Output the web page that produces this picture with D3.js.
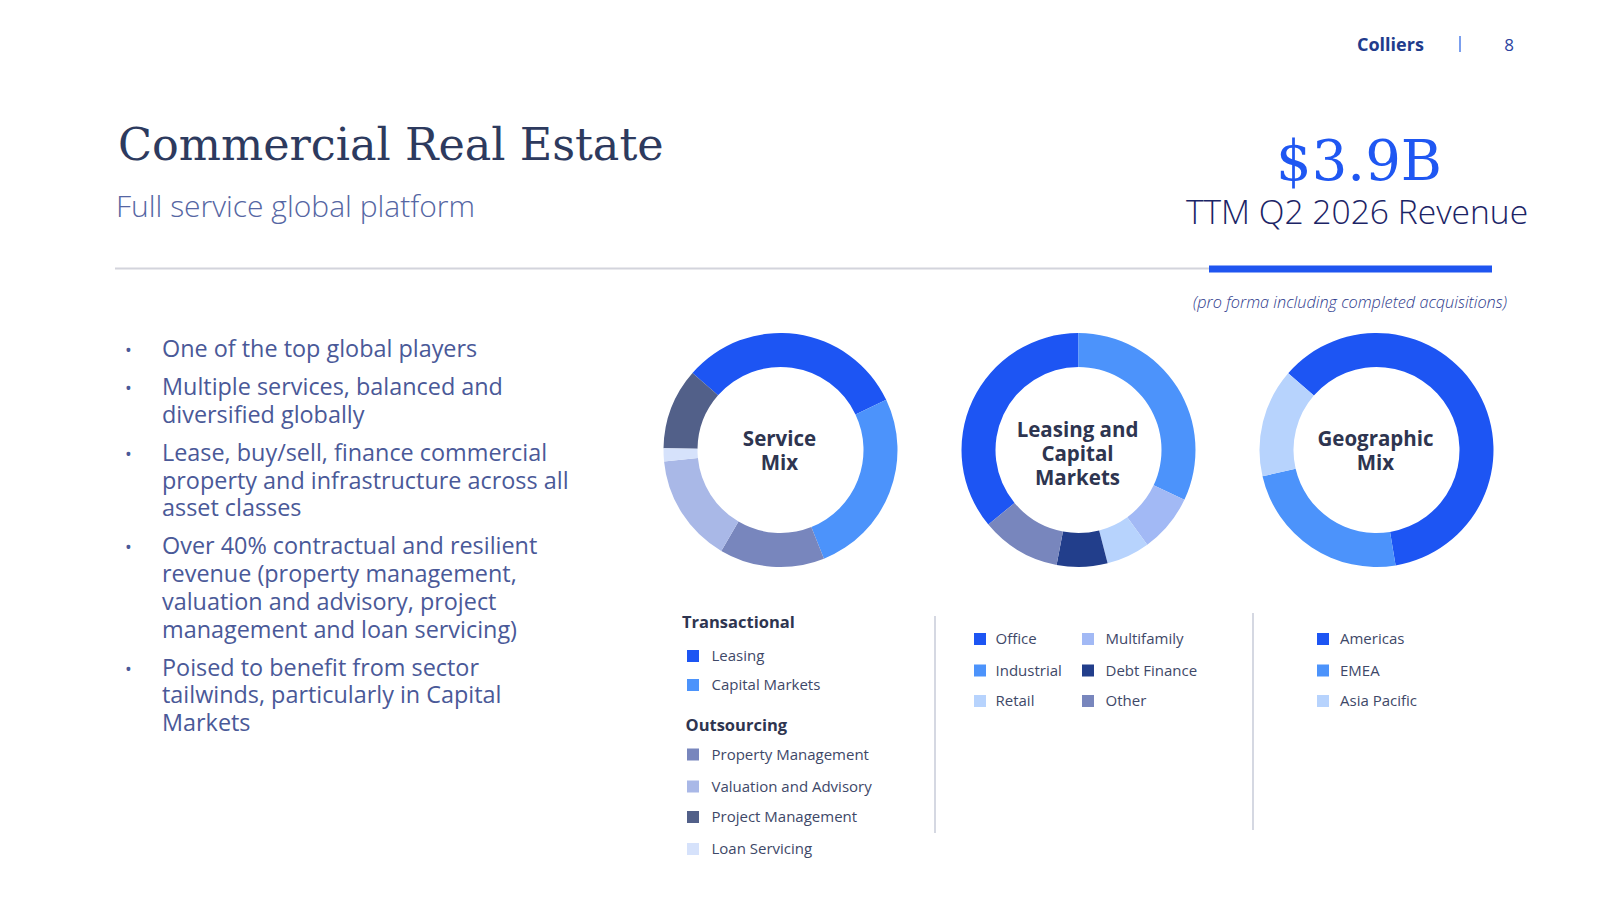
<!DOCTYPE html>
<html>
<head>
<meta charset="utf-8">
<script src="https://cdn.jsdelivr.net/npm/d3@7"></script>
<style>
  html, body { margin: 0; padding: 0; background: #ffffff; }
  svg { display: block; }
</style>
</head>
<body>
<svg id="chart" width="1600" height="900"></svg>
<script>
// ---------------- DATA ----------------
const serviceCategories = ["Leasing", "Capital Markets", "Property Management", "Valuation and Advisory", "Project Management", "Loan Servicing"];
const serviceValues     = [31.5, 26, 14.5, 15, 11.2, 1.8];
const serviceSliceOrder = ["Leasing", "Capital Markets", "Property Management", "Valuation and Advisory", "Loan Servicing", "Project Management"];
const serviceGroups     = ["Transactional", "Outsourcing"];

const assetCategories = ["Office", "Industrial", "Multifamily", "Retail", "Debt Finance", "Other"];
const assetValues     = [36, 32, 8, 6, 7, 11];
const assetLegendCols = [["Office", "Industrial", "Retail"], ["Multifamily", "Debt Finance", "Other"]];

const geoCategories = ["Americas", "EMEA", "Asia Pacific"];
const geoValues     = [61, 24, 15];

const bullets = [
  ["One of the top global players"],
  ["Multiple services, balanced and", "diversified globally"],
  ["Lease, buy/sell, finance commercial", "property and infrastructure across all", "asset classes"],
  ["Over 40% contractual and resilient", "revenue (property management,", "valuation and advisory, project", "management and loan servicing)"],
  ["Poised to benefit from sector", "tailwinds, particularly in Capital", "Markets"]
];

const donutTitles = [["Service", "Mix"], ["Leasing and", "Capital", "Markets"], ["Geographic", "Mix"]];

// ---------------- STYLES ----------------
const colors = {
  "Leasing": "#1D55F3", "Capital Markets": "#4C93FB", "Property Management": "#7886BD",
  "Valuation and Advisory": "#A9B8E7", "Project Management": "#526089", "Loan Servicing": "#D6E2FB",
  "Office": "#1D55F3", "Industrial": "#4C93FB", "Multifamily": "#A2B9F5", "Retail": "#B7D3FD",
  "Debt Finance": "#223E8B", "Other": "#7886BD",
  "Americas": "#1D55F3", "EMEA": "#4C93FB", "Asia Pacific": "#B7D3FD"
};
const SANS = "'Open Sans', 'Noto Sans', sans-serif";
const SERIF = "'DejaVu Serif', serif";

const svg = d3.select("#chart");

// ---------------- HEADER ----------------
svg.append("text").attr("x", 1357).attr("y", 51).text("Colliers")
  .attr("font-family", SANS).attr("font-weight", 700).attr("font-size", 18).attr("fill", "#213B8C");
svg.append("line").attr("x1", 1460).attr("x2", 1460).attr("y1", 36).attr("y2", 52)
  .attr("stroke", "#4F7FE8").attr("stroke-width", 1.5);
svg.append("text").attr("x", 1509).attr("y", 51).attr("text-anchor", "middle").text("8")
  .attr("font-family", SANS).attr("font-size", 17).attr("fill", "#2C44A0");

svg.append("text").attr("x", 118).attr("y", 160).text("Commercial Real Estate")
  .attr("font-family", SERIF).attr("font-size", 44.5).attr("fill", "#2D3A5E");
svg.append("text").attr("x", 116).attr("y", 217).text("Full service global platform")
  .attr("font-family", SANS).attr("font-weight", 300).attr("font-size", 30).attr("fill", "#5566A3");

svg.append("text").attr("x", 1359).attr("y", 180).attr("text-anchor", "middle").text("$3.9B")
  .attr("font-family", SERIF).attr("font-size", 56).attr("fill", "#1F57F2");
svg.append("text").attr("x", 1357).attr("y", 224).attr("text-anchor", "middle").text("TTM Q2 2026 Revenue")
  .attr("font-family", SANS).attr("font-weight", 300).attr("font-size", 33.6).attr("fill", "#1B2466");

svg.append("line").attr("x1", 115).attr("x2", 1209).attr("y1", 268.5).attr("y2", 268.5)
  .attr("stroke", "#D3D4DC").attr("stroke-width", 2);
svg.append("rect").attr("x", 1209).attr("y", 265.5).attr("width", 283).attr("height", 7).attr("fill", "#1F55F0");

svg.append("text").attr("x", 1350).attr("y", 308).attr("text-anchor", "middle")
  .text("(pro forma including completed acquisitions)")
  .attr("font-family", SANS).attr("font-style", "italic").attr("font-weight", 300)
  .attr("font-size", 16.3).attr("fill", "#2E3A8C");

// ---------------- BULLETS ----------------
let by = 356.7;
const LINE = 27.7, GAP = 38.2;
const bulletG = svg.append("g").attr("font-family", SANS).attr("font-size", 23.4).attr("fill", "#4A5998");
bullets.forEach((lines) => {
  bulletG.append("text").attr("x", 125).attr("y", by).text("•").attr("font-size", 18);
  lines.forEach((ln, j) => {
    bulletG.append("text").attr("x", 162).attr("y", by + j * LINE).text(ln);
  });
  by += (lines.length - 1) * LINE + GAP;
});

// ---------------- DONUTS ----------------
const outerR = 117, innerR = 83;
const arc = d3.arc().innerRadius(innerR).outerRadius(outerR);
const deg = Math.PI / 180;

function donut(cx, cy, cats, vals, order, startDeg, title, baselines) {
  const data = cats.map((c, i) => ({ name: c, value: vals[i] }));
  const pie = d3.pie().value(d => d.value)
    .sort((a, b) => order.indexOf(a.name) - order.indexOf(b.name))
    .startAngle(startDeg * deg).endAngle(startDeg * deg + 2 * Math.PI);
  const g = svg.append("g").attr("transform", `translate(${cx},${cy})`);
  g.selectAll("path").data(pie(data)).join("path")
    .attr("d", arc).attr("fill", d => colors[d.data.name]);
  title.forEach((t, i) => {
    g.append("text").attr("x", -1).attr("y", baselines[i] - cy).attr("text-anchor", "middle").text(t)
      .attr("font-family", SANS).attr("font-weight", 700).attr("font-size", 20.5).attr("fill", "#2E3550");
  });
}
donut(780.5, 450, serviceCategories, serviceValues, serviceSliceOrder, -48.8, donutTitles[0], [446, 469.5]);
donut(1078.5, 450, assetCategories, assetValues, assetCategories, -129.6, donutTitles[1], [437, 461, 485]);
donut(1376.5, 450, geoCategories, geoValues, geoCategories, -49, donutTitles[2], [446, 469.5]);

// ---------------- LEGENDS ----------------
const LTEXT = "#3E4868";
function legendItem(x, cy, name, textX) {
  svg.append("rect").attr("x", x).attr("y", cy - 6).attr("width", 12).attr("height", 12).attr("fill", colors[name]);
  svg.append("text").attr("x", textX).attr("y", cy + 5).text(name)
    .attr("font-family", SANS).attr("font-size", 15).attr("fill", LTEXT);
}

// Service legend
const groupHeadings = { "Transactional": { x: 682, y: 628 }, "Outsourcing": { x: 685.5, y: 731 } };
serviceGroups.forEach(gname => {
  svg.append("text").attr("x", groupHeadings[gname].x).attr("y", groupHeadings[gname].y).text(gname)
    .attr("font-family", SANS).attr("font-weight", 700).attr("font-size", 16.5).attr("fill", "#2E3550");
});
const serviceRowY = [656, 685, 754.5, 786.5, 817, 849];
serviceCategories.forEach((c, i) => legendItem(687, serviceRowY[i], c, 711.5));

// dividers
svg.append("line").attr("x1", 935).attr("x2", 935).attr("y1", 616).attr("y2", 833)
  .attr("stroke", "#C7CBD8").attr("stroke-width", 1.5);
svg.append("line").attr("x1", 1253).attr("x2", 1253).attr("y1", 613).attr("y2", 830)
  .attr("stroke", "#C7CBD8").attr("stroke-width", 1.5);

// Asset legend
const rowY3 = [639, 670.5, 701];
assetLegendCols[0].forEach((c, i) => legendItem(974, rowY3[i], c, 995.5));
assetLegendCols[1].forEach((c, i) => legendItem(1082, rowY3[i], c, 1105.5));

// Geo legend
geoCategories.forEach((c, i) => legendItem(1317, rowY3[i], c, 1340));
</script>
</body>
</html>
